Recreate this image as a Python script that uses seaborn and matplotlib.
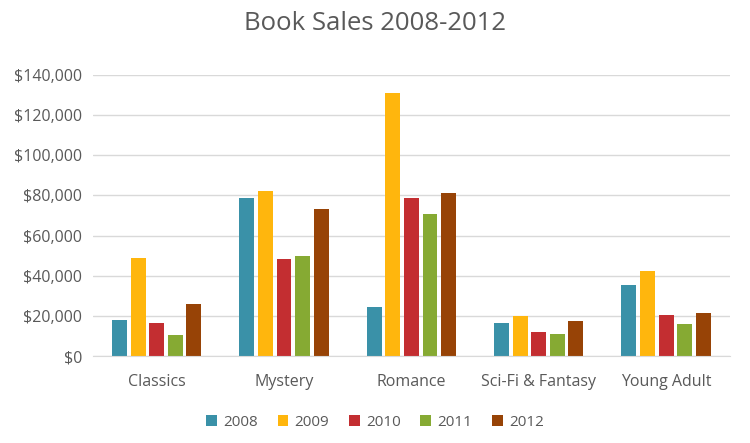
import pandas as pd
import seaborn as sns
import matplotlib.pyplot as plt
from matplotlib.ticker import FuncFormatter

categories = ['Classics', 'Mystery', 'Romance', 'Sci-Fi & Fantasy', 'Young Adult']
years = ['2008', '2009', '2010', '2011', '2012']
sales_2008 = [18000, 78700, 24400, 16400, 35400]
sales_2009 = [48800, 82200, 131000, 19900, 42300]
sales_2010 = [16400, 48300, 78700, 12000, 20400]
sales_2011 = [10500, 49800, 70700, 11000, 15900]
sales_2012 = [25900, 73200, 81200, 17400, 21400]

cores = ['#3A91A8', '#FFB60D', '#C32E31', '#86AA33', '#974306']

# Monta a tabela longa para o seaborn
linhas = []
for ano, valores in zip(years, [sales_2008, sales_2009, sales_2010, sales_2011, sales_2012]):
    for cat, v in zip(categories, valores):
        linhas.append({'Categoria': cat, 'Ano': ano, 'Vendas': v})
df = pd.DataFrame(linhas)

sns.set_style('white')
plt.rcParams['font.family'] = ['Open Sans', 'DejaVu Sans']

fig = plt.figure(figsize=(7.5, 4.43), dpi=100)
ax = fig.add_axes([0.124, 0.196, 0.849, 0.635])

sns.barplot(data=df, x='Categoria', y='Vendas', hue='Ano', palette=cores,
            width=0.73, gap=0.2, ax=ax, errorbar=None, saturation=1, linewidth=0)

ax.set_ylim(0, 140000)
ax.set_yticks(range(0, 140001, 20000))
ax.yaxis.set_major_formatter(FuncFormatter(lambda v, p: f'${v:,.0f}'))
ax.yaxis.grid(True, color='#D9D9D9', linewidth=1)
ax.set_axisbelow(True)
for lado in ['top', 'right', 'left']:
    ax.spines[lado].set_visible(False)
ax.spines['bottom'].set_color('#D9D9D9')
ax.tick_params(axis='both', length=0, labelsize=11.5, colors='#595959')
ax.tick_params(axis='x', pad=13)
ax.tick_params(axis='y', pad=8)
ax.set_xlabel('')
ax.set_ylabel('')

fig.suptitle('Book Sales 2008-2012', x=0.5, y=0.975, fontsize=18.5, color='#595959')

# Legenda centralizada na figura, abaixo do eixo
handles, labels = ax.get_legend_handles_labels()
ax.get_legend().remove()
fig.legend(handles, labels, loc='upper center', bbox_to_anchor=(0.5, 0.095), ncol=5,
           frameon=False, fontsize=11, handlelength=0.7, handleheight=0.7,
           handletextpad=0.4, columnspacing=1.3, labelcolor='#595959')

plt.savefig('out.png', dpi=100)
